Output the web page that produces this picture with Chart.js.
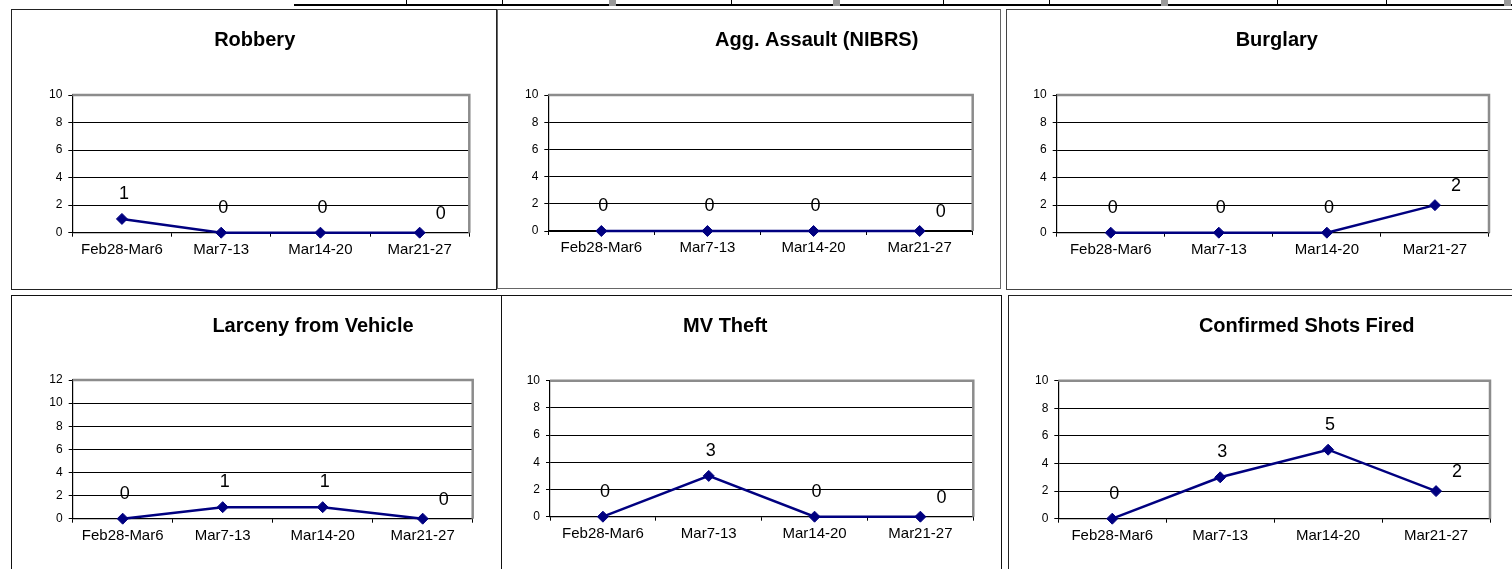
<!DOCTYPE html>
<html>
<head>
<meta charset="utf-8">
<script src="https://cdn.jsdelivr.net/npm/chart.js@4.4.1/dist/chart.umd.min.js"></script>
<style>
  html, body { margin: 0; padding: 0; background: #fff; }
  body { width: 1512px; height: 569px; position: relative; overflow: hidden; }
  .abs { position: absolute; box-sizing: border-box; }
  canvas.abs { display: block; }
</style>
</head>
<body>
<script>
// week buckets and weekly counts per offence
const weeks = ['Feb28-Mar6', 'Mar7-13', 'Mar14-20', 'Mar21-27'];
const titles = ['Robbery', 'Agg. Assault (NIBRS)', 'Burglary', 'Larceny from Vehicle', 'MV Theft', 'Confirmed Shots Fired'];
const robbery = [1, 0, 0, 0];
const aggAssault = [0, 0, 0, 0];
const burglary = [0, 0, 0, 2];
const larcenyFromVehicle = [0, 1, 1, 0];
const mvTheft = [0, 3, 0, 0];
const shotsFired = [0, 3, 5, 2];
const series = [robbery, aggAssault, burglary, larcenyFromVehicle, mvTheft, shotsFired];
const axisMax = [10, 10, 10, 12, 10, 10];
const axisStep = 2;

// page layout of the six boxes (page pixels)
const panels = [
  { box: [11, 9, 486, 281], plot: [72.3, 469.3, 95, 232.7], title: [254.7, 40], border: '1px solid #222' },
  { box: [497, 9, 504, 280], plot: [548.3, 972.7, 95, 231], title: [816.7, 40], border: '1px solid #666' },
  { box: [1006, 9, 510, 281], plot: [1056.7, 1489, 95, 232.7], title: [1276.8, 40], border: '1px solid #444' },
  { box: [11, 295, 491, 280], plot: [72.7, 472.7, 380, 518.7], title: [313, 326], border: '1px solid #111' },
  { box: [501, 295, 501, 280], plot: [550, 973.3, 380.7, 516.7], title: [725.3, 326], border: '1px solid #111' },
  { box: [1008, 295, 510, 280], plot: [1058.3, 1490, 380.7, 518.7], title: [1306.7, 326], border: '1px solid #222' }
];

const FONT = "'Liberation Sans', Arial, sans-serif";
const NAVY = '#000080';
const Y_W = 40, X_H = 40;

function div(x, y, w, h, css) {
  const d = document.createElement('div');
  d.className = 'abs';
  d.style.left = x + 'px'; d.style.top = y + 'px';
  d.style.width = w + 'px'; d.style.height = h + 'px';
  Object.assign(d.style, css || {});
  document.body.appendChild(d);
  return d;
}

// strip of spreadsheet cells above the charts
div(294, 4, 1218, 1.5, { background: '#000' });
[406, 502, 731, 943, 1049, 1277, 1386].forEach(x => div(x, 0, 1, 5, { background: '#000' }));
[609, 833, 1161, 1504].forEach(x => div(x, 0, 7, 6, { background: '#999' }));

// grey frame on top/right of plot area
const frame = {
  id: 'frame',
  beforeDatasetsDraw(chart) {
    const a = chart.chartArea, ctx = chart.ctx;
    ctx.save();
    ctx.strokeStyle = '#8c8c8c';
    ctx.lineWidth = 2.5;
    ctx.beginPath();
    ctx.moveTo(a.left, a.top);
    ctx.lineTo(a.right, a.top);
    ctx.lineTo(a.right, a.bottom);
    ctx.stroke();
    ctx.restore();
  }
};

// title placed where the original sheet had it
const sheetTitle = {
  id: 'sheetTitle',
  afterDraw(chart, args, opts) {
    const ctx = chart.ctx;
    ctx.save();
    ctx.font = 'bold 20px ' + FONT;
    ctx.fillStyle = '#000';
    ctx.textAlign = 'center';
    ctx.textBaseline = 'middle';
    ctx.fillText(opts.text, opts.x, opts.y);
    ctx.restore();
  }
};

// value labels above each point, last one pushed to the right
const valueLabels = {
  id: 'valueLabels',
  afterDatasetsDraw(chart) {
    const ctx = chart.ctx;
    const meta = chart.getDatasetMeta(0);
    const vals = chart.data.datasets[0].data;
    ctx.save();
    ctx.font = '18px ' + FONT;
    ctx.fillStyle = '#000';
    ctx.textAlign = 'center';
    ctx.textBaseline = 'middle';
    meta.data.forEach((pt, i) => {
      const last = i === meta.data.length - 1;
      const dx = last ? 21 : 2;
      const dy = last ? -19 : -25;
      ctx.fillText(String(vals[i]), pt.x + dx, pt.y + dy);
    });
    ctx.restore();
  }
};

panels.forEach((p, i) => {
  const [bx, by, bw, bh] = p.box;
  div(bx, by, bw, bh, { border: p.border });

  const cv = document.createElement('canvas');
  cv.className = 'abs';
  cv.width = bw; cv.height = bh;
  cv.style.left = bx + 'px'; cv.style.top = by + 'px';
  cv.style.width = bw + 'px'; cv.style.height = bh + 'px';
  document.body.appendChild(cv);

  const [pl, pr, pt, pb] = p.plot;
  const max = axisMax[i];

  new Chart(cv, {
    type: 'line',
    data: {
      labels: weeks,
      datasets: [{
        data: series[i],
        borderColor: NAVY,
        backgroundColor: NAVY,
        borderWidth: 2.5,
        pointStyle: 'rectRot',
        pointRadius: 5.5,
        pointBorderWidth: 1,
        pointBackgroundColor: NAVY,
        pointBorderColor: NAVY,
        tension: 0,
        clip: false
      }]
    },
    options: {
      responsive: false,
      animation: false,
      devicePixelRatio: 1,
      layout: {
        padding: {
          left: pl - bx - Y_W,
          right: bx + bw - pr,
          top: pt - by,
          bottom: by + bh - pb - X_H
        }
      },
      plugins: {
        legend: { display: false },
        title: { display: false },
        tooltip: { enabled: false },
        sheetTitle: { text: titles[i], x: p.title[0] - bx, y: p.title[1] - by }
      },
      scales: {
        x: {
          offset: true,
          afterFit(s) { s.height = X_H; },
          grid: { offset: true, drawOnChartArea: false, drawTicks: true, tickLength: 4, tickColor: '#000' },
          border: { display: true, color: '#000', width: 1.2 },
          ticks: { color: '#000', font: { family: FONT, size: 15 }, padding: 4, maxRotation: 0, autoSkip: false }
        },
        y: {
          min: 0,
          max: max,
          afterFit(s) { s.width = Y_W; },
          grid: {
            color: ctx => (ctx.tick && ctx.tick.value === max) ? 'rgba(0,0,0,0)' : '#000',
            lineWidth: 1,
            tickLength: 4,
            tickColor: '#000'
          },
          border: { display: true, color: '#000', width: 1.2 },
          ticks: { stepSize: axisStep, color: '#000', font: { family: FONT, size: 12 }, padding: 6 }
        }
      }
    },
    plugins: [frame, sheetTitle, valueLabels]
  });
});
</script>
</body>
</html>
